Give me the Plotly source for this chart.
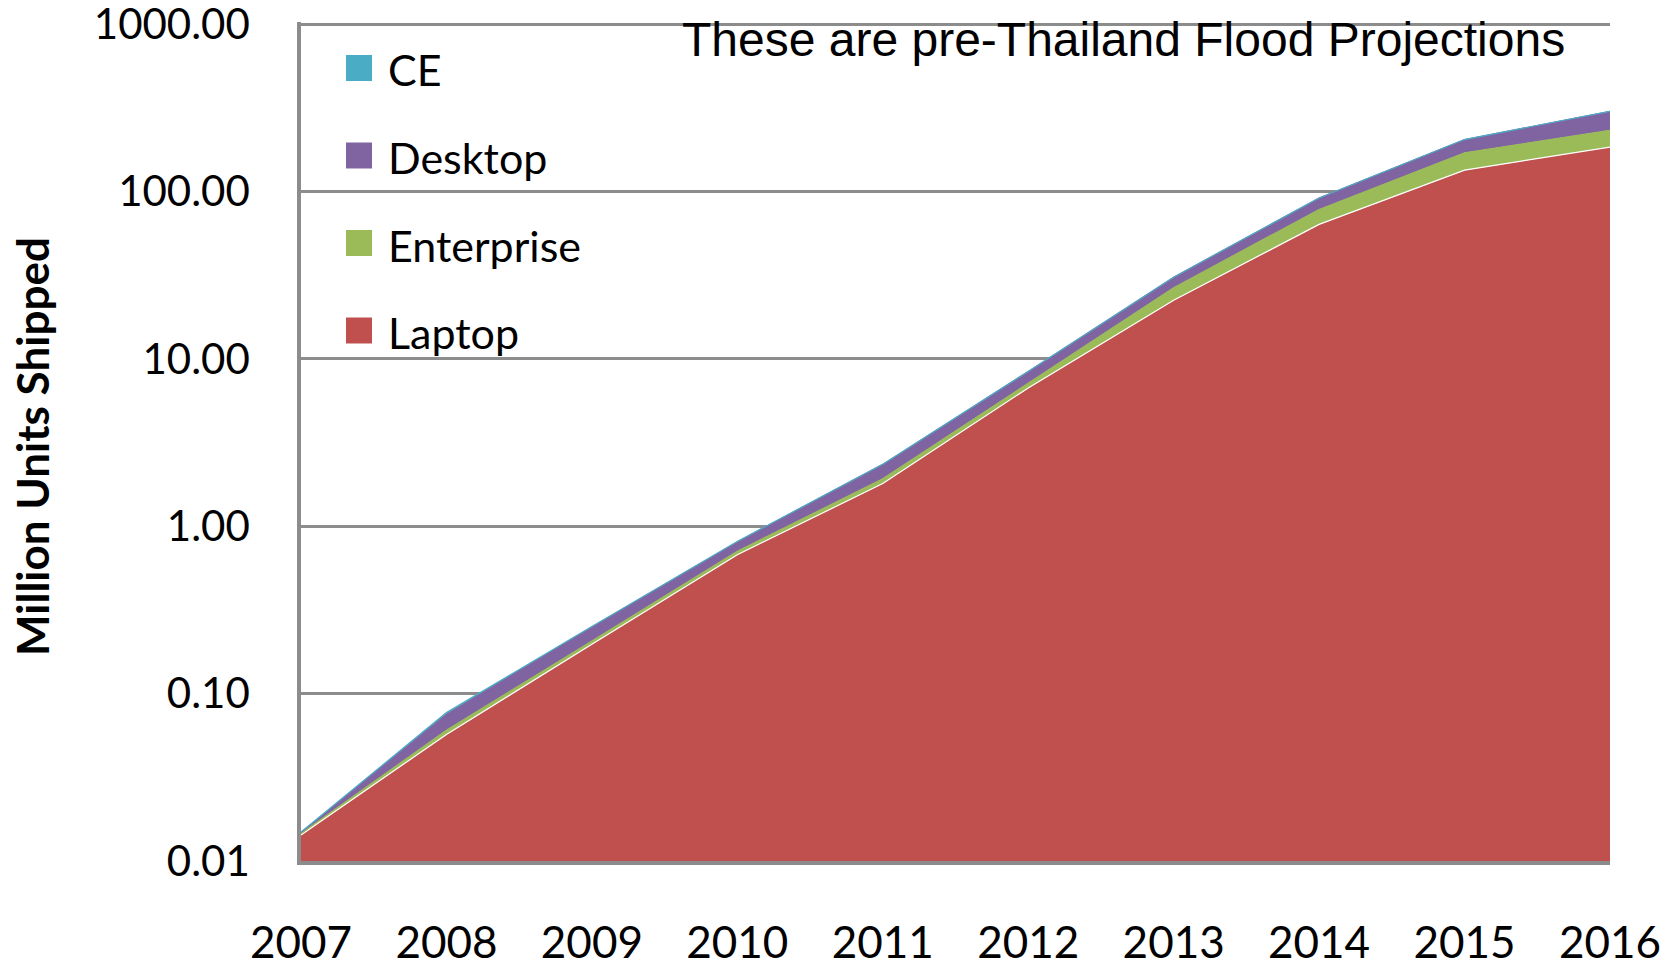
import plotly.graph_objects as go

# Shipment projections, million units (stacked)
years = [2007, 2008, 2009, 2010, 2011, 2012, 2013, 2014, 2015, 2016]
laptop = [0.0143, 0.057, 0.197, 0.675, 1.80, 6.7, 22.4, 63.5, 134.0, 184.0]
enterprise = [0.0003, 0.0034, 0.009, 0.033, 0.12, 0.45, 4.2, 14.5, 36.0, 48.0]
desktop = [0.0002, 0.0146, 0.044, 0.10, 0.42, 1.25, 4.1, 13.4, 34.0, 69.0]
ce = [0.0001, 0.002, 0.002, 0.003, 0.005, 0.01, 0.02, 0.03, 0.05, 0.06]

series_names = ["Laptop", "Enterprise", "Desktop", "CE"]
series_colors = ["#C0504D", "#9BBB59", "#8064A2", "#4BACC6"]
edge_colors = ["#FFFFFF", "#9BBB59", "#8064A2", "#4BACC6"]
y_tick_vals = [0.01, 0.1, 1, 10, 100, 1000]
y_tick_text = ["0.01", "0.10", "1.00", "10.00", "100.00", "1000.00"]

TEXT_FONT = "Lato, 'Open Sans', sans-serif"

fig = go.Figure()
for name, vals, fill_col, edge_col in zip(series_names,
                                          [laptop, enterprise, desktop, ce],
                                          series_colors, edge_colors):
    fig.add_trace(go.Scatter(
        x=years, y=vals, name=name, mode="lines",
        stackgroup="units", fillcolor=fill_col,
        line=dict(color=edge_col, width=1.2),
        showlegend=False,
    ))

# Canvas and plot-area geometry (pixels)
W, H = 1677, 961
ml, mr, mt, mb = 301, 67, 22, 100
pw, ph = W - ml - mr, H - mt - mb
y_top = 3.012  # a little headroom so the 1000 gridline is kept

def px_to_paper_x(px):
    return (px - ml) / pw

def px_to_paper_y(py):
    return 1 - (py - mt) / ph

# Hand-built legend: square swatches with labels, top item = last series
legend_x0 = 346
legend_y0 = 68
legend_step = 87.5

shapes = []
annotations = []
for i, (name, col) in enumerate(zip(reversed(series_names), reversed(series_colors))):
    cy = legend_y0 + i * legend_step
    shapes.append(dict(
        type="rect", xref="paper", yref="paper",
        x0=px_to_paper_x(legend_x0), x1=px_to_paper_x(legend_x0 + 26),
        y0=px_to_paper_y(cy - 13), y1=px_to_paper_y(cy + 13),
        fillcolor=col, line=dict(width=0), layer="above",
    ))
    annotations.append(dict(
        text=name, xref="paper", yref="paper",
        x=px_to_paper_x(386), y=px_to_paper_y(cy + 2),
        xanchor="left", yanchor="middle", showarrow=False,
        font=dict(family=TEXT_FONT, size=43, color="#000000"),
    ))

annotations.append(dict(
    text="These are pre-Thailand Flood Projections",
    xref="paper", yref="paper",
    x=px_to_paper_x(680), y=px_to_paper_y(40),
    xanchor="left", yanchor="middle", showarrow=False,
    font=dict(family="'Liberation Sans', Arial, sans-serif", size=48, color="#000000"),
))

annotations.append(dict(
    text="<b>Million Units Shipped</b>",
    xref="paper", yref="paper",
    x=px_to_paper_x(32), y=px_to_paper_y(447),
    xanchor="center", yanchor="middle", textangle=-90, showarrow=False,
    font=dict(family=TEXT_FONT, size=44, color="#000000"),
))

fig.update_layout(
    width=W, height=H,
    margin=dict(l=ml, r=mr, t=mt, b=mb, autoexpand=False),
    paper_bgcolor="white", plot_bgcolor="white",
    showlegend=False,
    shapes=shapes, annotations=annotations,
    xaxis=dict(
        range=[2007, 2016], tickvals=years, ticktext=[str(y) for y in years],
        showgrid=False, zeroline=False, automargin=False,
        showline=True, linecolor="#8c8c8c", linewidth=3.5,
        ticks="", ticklabelstandoff=40, ticklabeloverflow="allow",
        tickfont=dict(family=TEXT_FONT, size=44, color="#000000"),
    ),
    yaxis=dict(
        type="log", range=[-2, y_top],
        tickvals=y_tick_vals, ticktext=y_tick_text,
        showgrid=True, gridcolor="#8c8c8c", gridwidth=3,
        zeroline=False, automargin=False,
        showline=True, linecolor="#8c8c8c", linewidth=3.5,
        ticks="", ticklabelstandoff=39, ticklabeloverflow="allow",
        tickfont=dict(family=TEXT_FONT, size=42, color="#000000"),
    ),
)

fig.write_html("out.html")
